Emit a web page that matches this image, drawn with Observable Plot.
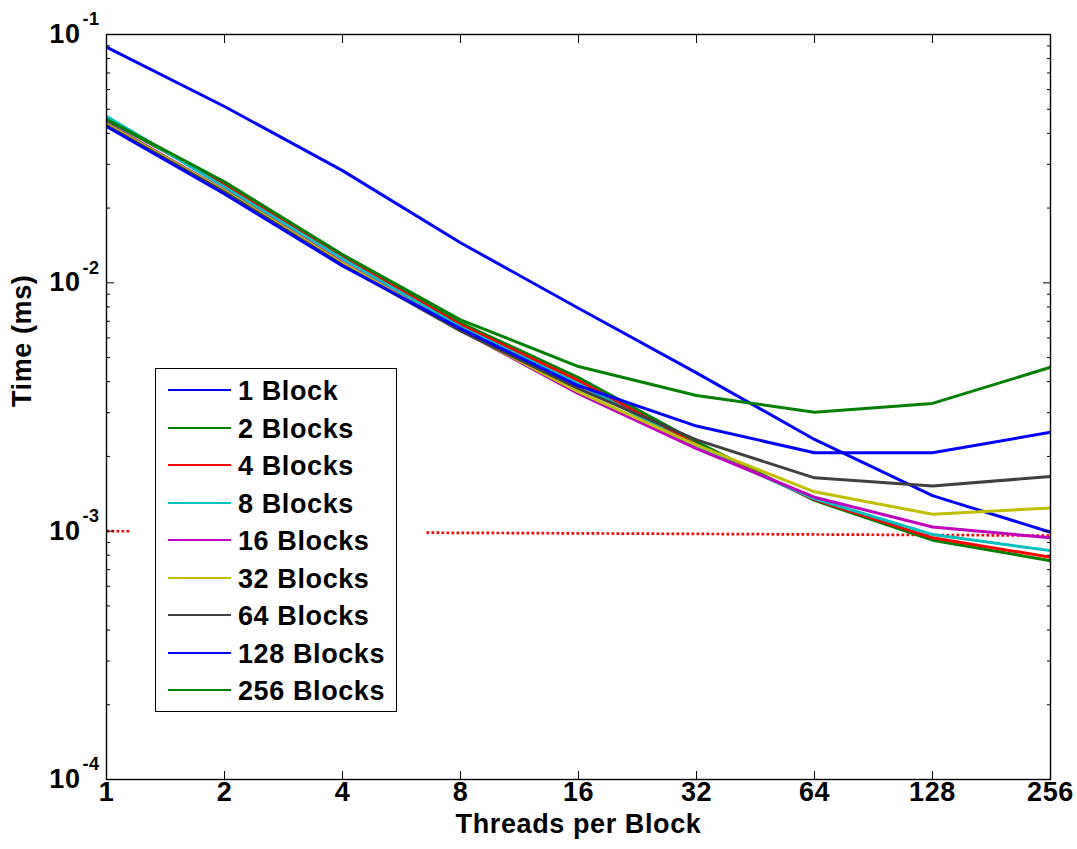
<!DOCTYPE html>
<html>
<head>
<meta charset="utf-8">
<script src="https://cdn.jsdelivr.net/npm/d3@7"></script>
<script src="https://cdn.jsdelivr.net/npm/@observablehq/plot@0.6"></script>
<style>
  body { margin: 0; background: #fff; }
  #wrap { position: relative; width: 1077px; height: 849px; font-family: "Liberation Sans", Arial, Helvetica, sans-serif; font-weight: bold; }
  #wrap svg text { letter-spacing: 0.6px; }
  #legendBack { position: absolute; background: #fff; }
  #legend { position: absolute; background: #fff; border: 1.3px solid #000; box-sizing: border-box; }
  #legend .row { position: absolute; left: 0; height: 0; }
  #legend .swatch { position: absolute; height: 2px; }
  #legend .lab { position: absolute; font-size: 27px; letter-spacing: 0.6px; line-height: 1; white-space: nowrap; color: #000; }
</style>
</head>
<body>
<div id="wrap"></div>
<script>
// ---- data ----
const threads = [1, 2, 4, 8, 16, 32, 64, 128, 256];
const seriesNames = ["1 Block", "2 Blocks", "4 Blocks", "8 Blocks", "16 Blocks", "32 Blocks", "64 Blocks", "128 Blocks", "256 Blocks"];
const seriesColors = ["#0000ff", "#008000", "#ff0000", "#00bfbf", "#bf00bf", "#bfbf00", "#404040", "#0000ff", "#008000"];

const time1Block   = [0.0889, 0.0513, 0.0283, 0.0145, 0.0079, 0.00434, 0.00234, 0.00139, 0.00099];
const time2Blocks  = [0.0453, 0.0250, 0.0128, 0.0069, 0.00415, 0.00229, 0.00133, 0.00092, 0.00076];
const time4Blocks  = [0.0462, 0.0248, 0.0127, 0.00678, 0.00404, 0.00222, 0.00134, 0.00094, 0.000785];
const time8Blocks  = [0.0468, 0.0243, 0.0125, 0.00663, 0.00392, 0.00218, 0.00135, 0.00097, 0.000835];
const time16Blocks = [0.0440, 0.0236, 0.0121, 0.00645, 0.00358, 0.00215, 0.00137, 0.00104, 0.00094];
const time32Blocks = [0.0436, 0.0235, 0.0120, 0.00645, 0.00364, 0.00222, 0.00144, 0.00117, 0.00124];
const time64Blocks = [0.0430, 0.0232, 0.0118, 0.00640, 0.00375, 0.00233, 0.00164, 0.00152, 0.00166];
const time128Blocks= [0.0426, 0.0228, 0.0117, 0.00654, 0.00385, 0.00265, 0.00207, 0.00207, 0.00250];
const time256Blocks= [0.0455, 0.0255, 0.0130, 0.00710, 0.00460, 0.00352, 0.00301, 0.00327, 0.00457];
const seriesValues = [time1Block, time2Blocks, time4Blocks, time8Blocks, time16Blocks, time32Blocks, time64Blocks, time128Blocks, time256Blocks];

const refThreads = [1, 256];
const refTime = [0.001, 0.00096];

const xTickValues = [1, 2, 4, 8, 16, 32, 64, 128, 256];
const yMajorTicks = [1e-4, 1e-3, 1e-2, 1e-1];
const yExponentLabels = ["-4", "-3", "-2", "-1"];
const xTitle = "Threads per Block";
const yTitle = "Time (ms)";

// ---- derived tables ----
const rows = [];
seriesValues.forEach((vals, i) => vals.forEach((v, j) => rows.push({ series: seriesNames[i], threads: threads[j], time: v })));
const refRows = refThreads.map((t, i) => ({ threads: t, time: refTime[i] }));
const yMinorTicks = [];
yMajorTicks.slice(0, -1).forEach(d => { for (let k = 2; k <= 9; k++) yMinorTicks.push(d * k); });

const fontFamily = '"Liberation Sans", Arial, Helvetica, sans-serif';
const noLabel = () => "";

const chart = Plot.plot({
  width: 1077,
  height: 849,
  marginLeft: 106,
  marginRight: 27,
  marginTop: 34,
  marginBottom: 70,
  style: { fontFamily, fontWeight: "bold", fontSize: "27px", background: "#fff", color: "#000", overflow: "visible" },
  x: { type: "log", base: 2, domain: [1, 256] },
  y: { type: "log", domain: [1e-4, 1e-1] },
  color: { domain: seriesNames, range: seriesColors },
  marks: [
    Plot.line(refRows, { x: "threads", y: "time", stroke: "#ff0000", strokeWidth: 2.7, strokeDasharray: "2.7,2.3", strokeLinecap: "butt" }),
    Plot.line(rows, { x: "threads", y: "time", z: "series", stroke: "series", strokeWidth: 3, strokeLinejoin: "miter", strokeLinecap: "butt" }),
    Plot.frame({ stroke: "#000", strokeWidth: 1.4 }),
    Plot.axisX({ anchor: "bottom", ticks: xTickValues, tickSize: -8, tickFormat: noLabel, label: null, strokeWidth: 1 }),
    Plot.axisX({ anchor: "top", ticks: xTickValues, tickSize: -8, tickFormat: noLabel, label: null, strokeWidth: 1 }),
    Plot.axisY({ anchor: "left", ticks: yMajorTicks, tickSize: -8, tickFormat: noLabel, label: null, strokeWidth: 1 }),
    Plot.axisY({ anchor: "left", ticks: yMinorTicks, tickSize: -4, tickFormat: noLabel, label: null, strokeWidth: 1 }),
    Plot.axisY({ anchor: "right", ticks: yMajorTicks, tickSize: -8, tickFormat: noLabel, label: null, strokeWidth: 1 }),
    Plot.axisY({ anchor: "right", ticks: yMinorTicks, tickSize: -4, tickFormat: noLabel, label: null, strokeWidth: 1 }),
    Plot.text(xTickValues, { x: d => d, frameAnchor: "bottom", dy: 21, text: d => String(d), fontSize: 27, fill: "#000" }),
    Plot.text(yMajorTicks, { y: d => d, frameAnchor: "left", dx: -26, textAnchor: "end", text: () => "10", fontSize: 27, fill: "#000" }),
    Plot.text(yMajorTicks, { y: d => d, frameAnchor: "left", dx: -24, dy: -15, textAnchor: "start", text: (d, i) => yExponentLabels[i], fontSize: 18, fill: "#000" }),
    Plot.text([xTitle], { frameAnchor: "bottom", dy: 53, text: d => d, fontSize: 27, fill: "#000" }),
    Plot.text([yTitle], { frameAnchor: "left", dx: -84, rotate: -90, text: d => d, fontSize: 27, fill: "#000" })
  ]
});

const wrap = document.getElementById("wrap");
wrap.appendChild(chart);

// ---- legend (HTML overlay) ----
const back = document.createElement("div");
back.id = "legendBack";
Object.assign(back.style, { left: "130px", top: "350px", width: "295px", height: "380px" });
wrap.appendChild(back);

const legend = document.createElement("div");
legend.id = "legend";
Object.assign(legend.style, { left: "155px", top: "368px", width: "242px", height: "344px" });
seriesNames.forEach((name, i) => {
  const row = document.createElement("div");
  row.className = "row";
  row.style.top = Math.round(20 + i * 37.5) + "px";
  const sw = document.createElement("div");
  sw.className = "swatch";
  Object.assign(sw.style, { left: "12px", width: "63px", top: "0px", background: seriesColors[i] });
  const lab = document.createElement("div");
  lab.className = "lab";
  lab.textContent = name;
  Object.assign(lab.style, { left: "82px", top: "-11px" });
  row.appendChild(sw);
  row.appendChild(lab);
  legend.appendChild(row);
});
wrap.appendChild(legend);
</script>
</body>
</html>
